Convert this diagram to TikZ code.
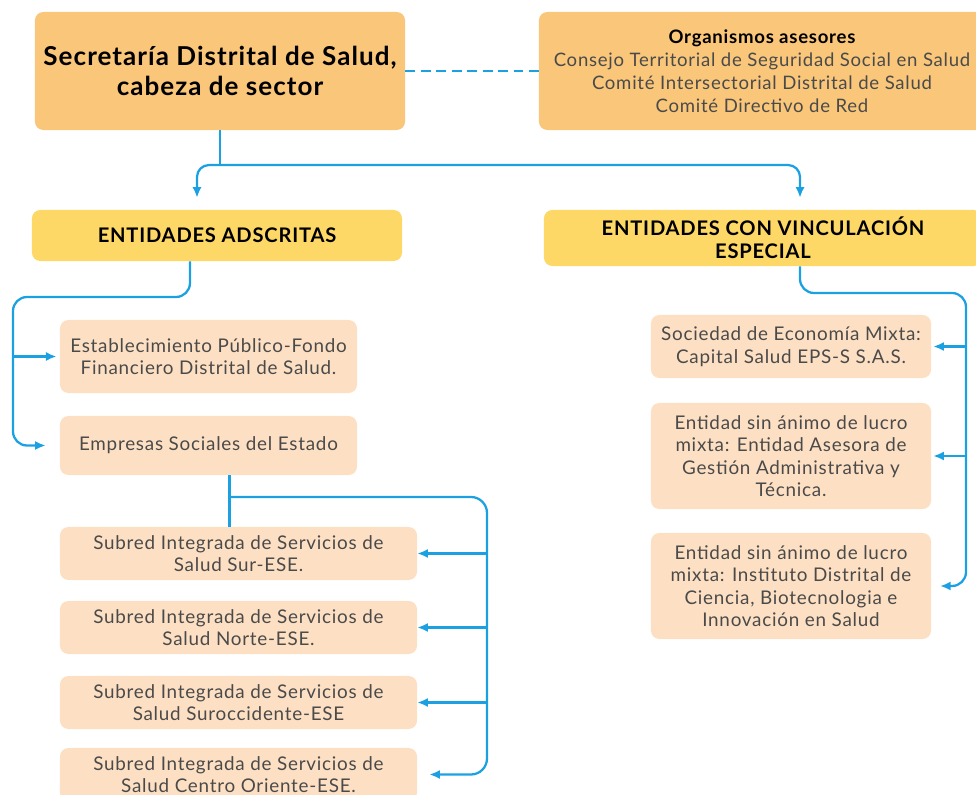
\documentclass[tikz,border=0pt]{standalone}
\usepackage{fontspec}
\setmainfont{Lato}[LetterSpace=4]
\usepackage{xcolor}
\usepackage{tikz}
\usetikzlibrary{arrows.meta,positioning,calc}

\definecolor{naranja}{HTML}{F9C67A}
\definecolor{amarillo}{HTML}{FDD866}
\definecolor{durazno}{HTML}{FDE0C3}
\definecolor{azul}{HTML}{1BA1E2}
\definecolor{gristexto}{HTML}{4A4A4A}

\begin{document}
\begin{tikzpicture}[x=0.025cm, y=-0.025cm,
    every node/.style={align=center, inner sep=2pt},
    cabeza/.style={fill=naranja, rounded corners=6pt, font=\fontsize{18.5}{21.5}\selectfont\bfseries},
    asesor/.style={fill=naranja, rounded corners=6pt, font=\fontsize{13.2}{16.4}\selectfont, text=gristexto},
    grupo/.style={fill=amarillo, rounded corners=6pt, font=\fontsize{14.3}{16.6}\selectfont\bfseries},
    entidad/.style={fill=durazno, rounded corners=6pt, font=\fontsize{13.4}{16}\selectfont, text=gristexto},
    link/.style={draw=azul, line width=1.6pt},
    arr/.style={link, -{Latex[length=7.5pt,width=6.5pt]}}]
    \useasboundingbox (0,0) rectangle (976,795);

    % cabeza y organismos asesores
    \node (sds) [cabeza, minimum width=9.25cm, minimum height=2.95cm] at (220,71) {Secretaría Distrital de Salud,\\cabeza de sector};
    \node (ases) [asesor, minimum width=11.15cm, minimum height=2.95cm] at (762,71) {\textbf{\color{black}Organismos asesores}\\Consejo Territorial de Seguridad Social en Salud\\Comité Intersectorial Distrital de Salud\\Comité Directivo de Red};
    \draw[link, dash pattern=on 7pt off 4pt] (sds) -- (ases);

    % grupos
    \node (adsc) [grupo, minimum width=9.25cm, minimum height=1.275cm] at (217,235.5) {ENTIDADES ADSCRITAS};
    \node (vinc) [grupo, minimum width=10.95cm, minimum height=1.4cm] at (763,238) {ENTIDADES CON VINCULACIÓN\\ESPECIAL};
    \coordinate (j0) at (220,165);
    \draw[link] (sds) -- (j0);
    \draw[arr, rounded corners=0.3cm, shorten >=0.3cm] (j0) -| ([xshift=-0.5cm]adsc.north);
    \draw[arr, rounded corners=0.3cm, shorten >=0.3cm] (j0) -| ([xshift=0.925cm]vinc.north);

    % entidades adscritas
    \node (estab) [entidad, minimum width=7.425cm, minimum height=1.825cm] at (208.5,356.5) {Establecimiento Público-Fondo\\Financiero Distrital de Salud.};
    \node (emp) [entidad, minimum width=7.425cm, minimum height=1.475cm] at (208.5,445.5) {Empresas Sociales del Estado};
    \coordinate (a1) at (13,297);
    \draw[arr, rounded corners=0.35cm, shorten >=0.35cm] ([xshift=-0.675cm]adsc.south) |- (a1) |- (emp.west);
    \draw[arr, shorten >=0.08cm] (a1 |- estab) -- (estab);

    % subredes
    \node (sub1) [entidad, minimum width=8.925cm, minimum height=1.325cm] at (238.5,553.5) {Subred Integrada de Servicios de\\Salud Sur-ESE.};
    \node (sub2) [entidad, minimum width=8.925cm, minimum height=1.325cm] at (238.5,627.5) {Subred Integrada de Servicios de\\Salud Norte-ESE.};
    \node (sub3) [entidad, minimum width=8.925cm, minimum height=1.325cm] at (238.5,702.5) {Subred Integrada de Servicios de\\Salud Suroccidente-ESE};
    \node (sub4) [entidad, minimum width=8.925cm, minimum height=1.325cm] at (238.5,774.5) {Subred Integrada de Servicios de\\Salud Centro Oriente-ESE.};
    \draw[link] ([xshift=0.525cm]emp.south) coordinate (e0) -- (e0 |- sub1.north);
    \coordinate (eb) at (487,497);
    \draw[arr, rounded corners=0.4cm, shorten >=0.3cm] (e0 |- eb) -- (eb) |- (sub4.east);
    \foreach \n in {sub1,sub2,sub3}
      \draw[arr] (eb |- \n) -- (\n);

    % entidades con vinculacion especial
    \node (soc) [entidad, minimum width=7cm, minimum height=1.575cm] at (791,346.5) {Sociedad de Economía Mixta:\\Capital Salud EPS-S S.A.S.};
    \node (aseg) [entidad, minimum width=7cm, minimum height=2.65cm] at (791,456) {Entidad sin ánimo de lucro\\mixta: Entidad Asesora de\\Gestión Administrativa y\\Técnica.};
    \node (inst) [entidad, minimum width=7cm, minimum height=2.65cm] at (791,586) {Entidad sin ánimo de lucro\\mixta: Instituto Distrital de\\Ciencia, Biotecnologia e\\Innovación en Salud};
    \coordinate (vb) at (966,293);
    \draw[arr, rounded corners=0.35cm, shorten >=0.22cm] ([xshift=0.925cm]vinc.south) |- (vb) |- (inst.east);
    \foreach \n in {soc,aseg}
      \draw[arr, shorten >=0.05cm] (vb |- \n) -- (\n);
  \end{tikzpicture}
\end{document}
